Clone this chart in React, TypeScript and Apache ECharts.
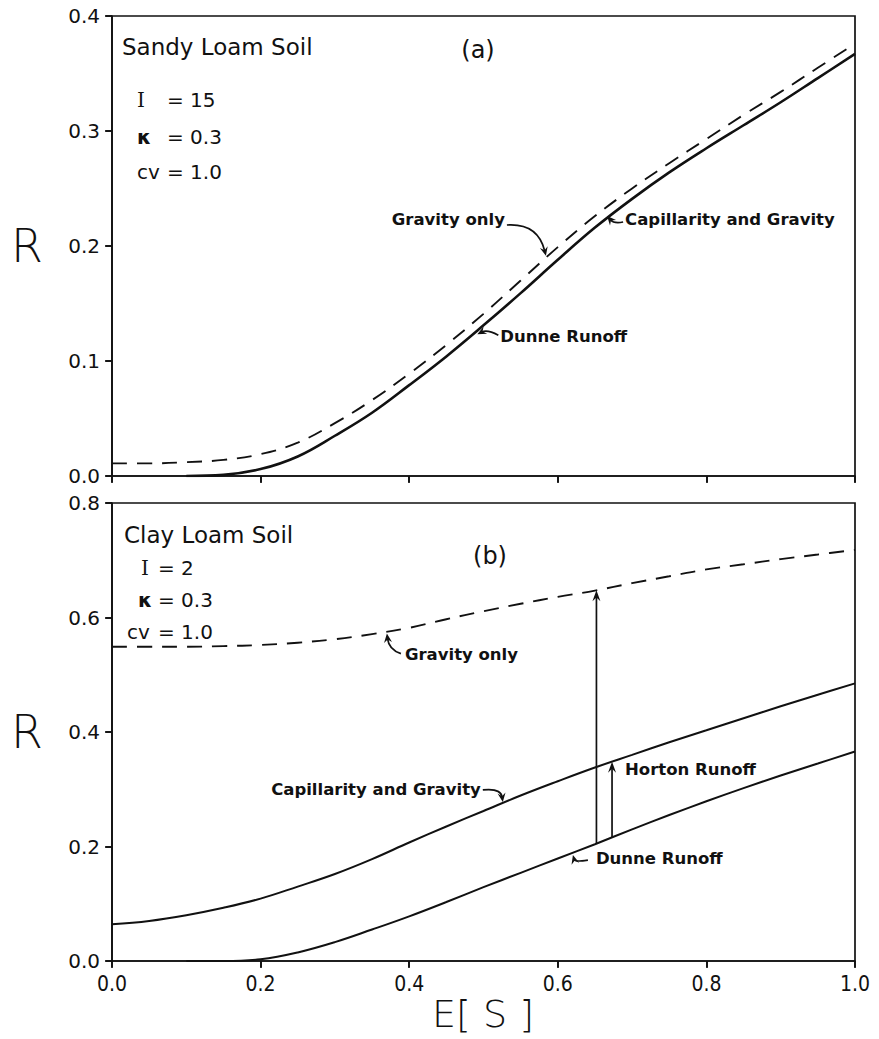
import React, { useEffect, useRef } from "react";
import * as echarts from "echarts";

// Effective saturation E[S] sample points shared by every curve
const ES = [0, 0.05, 0.1, 0.15, 0.2, 0.25, 0.3, 0.35, 0.4, 0.45, 0.5, 0.55, 0.6, 0.65, 0.7, 0.75, 0.8, 0.85, 0.9, 0.95, 1.0];

// (a) Sandy loam soil
const sandyGravityOnly = [0.011, 0.011, 0.012, 0.014, 0.019, 0.029, 0.046, 0.066, 0.089, 0.114, 0.141, 0.17, 0.199, 0.226, 0.25, 0.272, 0.293, 0.314, 0.334, 0.355, 0.376];
const sandyCapillarity = [null, null, 0, 0.001, 0.006, 0.017, 0.035, 0.055, 0.079, 0.104, 0.131, 0.159, 0.188, 0.216, 0.241, 0.264, 0.285, 0.305, 0.325, 0.346, 0.367];

// (b) Clay loam soil
const clayGravityOnly = [0.549, 0.549, 0.549, 0.55, 0.552, 0.556, 0.562, 0.571, 0.582, 0.597, 0.611, 0.624, 0.636, 0.647, 0.66, 0.672, 0.684, 0.693, 0.702, 0.71, 0.718];
const clayCapillarity = [0.064, 0.07, 0.08, 0.093, 0.109, 0.13, 0.152, 0.178, 0.207, 0.235, 0.262, 0.289, 0.314, 0.338, 0.36, 0.382, 0.403, 0.424, 0.445, 0.465, 0.485];
const clayDunne = [null, null, 0, 0, 0.003, 0.015, 0.033, 0.055, 0.078, 0.103, 0.129, 0.154, 0.179, 0.204, 0.23, 0.255, 0.279, 0.302, 0.324, 0.345, 0.366];

// Axis ticks
const xTicks = { min: 0, max: 1, interval: 0.2 };
const sandyTicks = { min: 0, max: 0.4, interval: 0.1 };
const clayTicks = { min: 0, max: 0.8, interval: 0.2 };

// Panel parameters
const sandyParams = [["I", "= 15"], ["κ", "= 0.3"], ["cv", "= 1.0"]];
const clayParams = [["I", "= 2"], ["κ", "= 0.3"], ["cv", "= 1.0"]];

// E[S] positions where annotation arrows meet the curves
const sandyArrowAt = { gravityOnly: 0.584, capillarity: 0.665, dunne: 0.489 };
const clayArrowAt = { gravityOnly: 0.37, capillarity: 0.526, dunne: 0.619, totalRise: 0.652, horton: 0.673 };

const INK = "#111";
const SANS = "'DejaVu Sans', 'Noto Sans', sans-serif";
const NARROW = "'DejaVu Sans Condensed', 'Liberation Sans Narrow', 'DejaVu Sans', sans-serif";
const SERIF = "'DejaVu Serif', 'Liberation Serif', serif";

function interp(xs: number[], ys: (number | null)[], x: number): number {
  for (let i = 0; i < xs.length - 1; i++) {
    if (x >= xs[i] && x <= xs[i + 1]) {
      const a = ys[i] ?? 0;
      const b = ys[i + 1] ?? 0;
      return a + ((b - a) * (x - xs[i])) / (xs[i + 1] - xs[i]);
    }
  }
  return ys[ys.length - 1] ?? 0;
}

function pairs(ys: (number | null)[]) {
  return ES.map((x, i) => [x, ys[i]]);
}

function head(tip: number[], from: number[], size = 9, half = 4) {
  const dx = tip[0] - from[0];
  const dy = tip[1] - from[1];
  const len = Math.hypot(dx, dy) || 1;
  const ux = dx / len, uy = dy / len;
  const nx = -uy, ny = ux;
  const bx = tip[0] - ux * size, by = tip[1] - uy * size;
  return {
    type: "polygon",
    shape: {
      points: [
        [tip[0], tip[1]],
        [bx + nx * half, by + ny * half],
        [tip[0] - ux * size * 0.65, tip[1] - uy * size * 0.65],
        [bx - nx * half, by - ny * half],
      ],
    },
    style: { fill: INK },
  };
}

function curvedArrow(p0: number[], c: number[], tip: number[]) {
  const dx = tip[0] - c[0], dy = tip[1] - c[1];
  const len = Math.hypot(dx, dy) || 1;
  return [
    {
      type: "bezierCurve",
      shape: { x1: p0[0], y1: p0[1], cpx1: c[0], cpy1: c[1], x2: tip[0] - (dx / len) * 5, y2: tip[1] - (dy / len) * 5 },
      style: { stroke: INK, lineWidth: 1.7, fill: null },
    },
    head(tip, c),
  ];
}

function straightArrow(from: number[], tip: number[]) {
  return [
    { type: "line", shape: { x1: from[0], y1: from[1], x2: tip[0], y2: tip[1] + 5 }, style: { stroke: INK, lineWidth: 1.7 } },
    head(tip, from, 11, 4),
  ];
}

function label(text: string, x: number, y: number, align = "left", size = 16.5, weight: any = "bold", family = SANS) {
  return {
    type: "text",
    x,
    y,
    style: { text, fill: INK, fontSize: size, fontWeight: weight, fontFamily: family, align, verticalAlign: "middle" },
  };
}

function valueAxes(grid: number, t: { min: number; max: number; interval: number }, showLabels: boolean, kind: "x" | "y") {
  const common = {
    type: "value",
    gridIndex: grid,
    min: t.min,
    max: t.max,
    interval: t.interval,
    splitLine: { show: false },
  };
  const main = {
    ...common,
    axisLine: { show: true, lineStyle: { color: INK, width: 1.7 } },
    axisTick: { show: true, inside: false, length: 7, lineStyle: { color: INK, width: 1.7 } },
    axisLabel: {
      show: showLabels,
      margin: 12,
      color: INK,
      fontSize: kind === "x" ? 21 : 20,
      fontFamily: kind === "x" ? NARROW : SANS,
      formatter: (v: number) => v.toFixed(1),
    },
  };
  const inner = {
    ...common,
    axisLine: { show: false },
    axisTick: { show: true, inside: true, length: 6, lineStyle: { color: INK, width: 1.7 } },
    axisLabel: { show: false },
  };
  return [main, inner];
}

export default function App() {
  const ref = useRef<HTMLDivElement>(null);

  useEffect(() => {
    if (!ref.current) return;
    const chart = echarts.init(ref.current, null, { renderer: "svg" });

    const solid = (w: number) => ({ color: INK, width: w, type: "solid" as const });
    const dashed = { color: INK, width: 1.9, type: [15, 10] as any };

    chart.setOption({
      animation: false,
      backgroundColor: "#fff",
      grid: [
        { left: 112, top: 16, width: 743, height: 460, show: true, borderColor: INK, borderWidth: 1.7 },
        { left: 112, top: 503, width: 743, height: 458, show: true, borderColor: INK, borderWidth: 1.7 },
      ],
      xAxis: [...valueAxes(0, xTicks, false, "x"), ...valueAxes(1, xTicks, true, "x")],
      yAxis: [...valueAxes(0, sandyTicks, true, "y"), ...valueAxes(1, clayTicks, true, "y")],
      series: [
        { name: "Gravity only (a)", type: "line", xAxisIndex: 0, yAxisIndex: 0, data: pairs(sandyGravityOnly), smooth: 0.4, symbol: "none", lineStyle: dashed },
        { name: "Capillarity and Gravity (a)", type: "line", xAxisIndex: 0, yAxisIndex: 0, data: pairs(sandyCapillarity), smooth: 0.4, symbol: "none", lineStyle: solid(2.6) },
        { name: "Gravity only (b)", type: "line", xAxisIndex: 2, yAxisIndex: 2, data: pairs(clayGravityOnly), smooth: 0.4, symbol: "none", lineStyle: dashed },
        { name: "Capillarity and Gravity (b)", type: "line", xAxisIndex: 2, yAxisIndex: 2, data: pairs(clayCapillarity), smooth: 0.4, symbol: "none", lineStyle: solid(2) },
        { name: "Dunne Runoff (b)", type: "line", xAxisIndex: 2, yAxisIndex: 2, data: pairs(clayDunne), smooth: 0.4, symbol: "none", lineStyle: solid(2) },
      ],
    });

    const pa = (x: number, y: number) => chart.convertToPixel({ xAxisIndex: 0, yAxisIndex: 0 }, [x, y]) as number[];
    const pb = (x: number, y: number) => chart.convertToPixel({ xAxisIndex: 2, yAxisIndex: 2 }, [x, y]) as number[];
    const add = (p: number[], dx: number, dy: number) => [p[0] + dx, p[1] + dy];

    const g: any[] = [];

    // Axis titles
    const r1 = pa(0, 0.2);
    const r2 = pb(0, 0.4);
    g.push(label("R", 27, r1[1], "center", 46, 200, SANS));
    g.push(label("R", 27, r2[1], "center", 46, 200, SANS));
    g.push(label("E[ S ]", 483, 1014, "center", 38, 200, SANS));

    // Panel titles and parameters
    g.push(label("Sandy Loam Soil", 122, 47, "left", 23, "normal"));
    g.push(label("(a)", 478, 50, "center", 24, "normal"));
    const sandyRows = [100, 137, 172];
    sandyParams.forEach(([sym, rest], i) => {
      g.push(label(sym, 137, sandyRows[i], "left", 20, sym === "κ" ? "bold" : "normal", sym === "I" ? SERIF : SANS));
      g.push(label(rest, 167, sandyRows[i], "left", 20, "normal"));
    });
    g.push(label("Clay Loam Soil", 124, 535, "left", 23, "normal"));
    g.push(label("(b)", 490, 556, "center", 24, "normal"));
    const clayRows = [568, 600, 632];
    const clayX = [141, 138, 127];
    clayParams.forEach(([sym, rest], i) => {
      g.push(label(sym, clayX[i], clayRows[i], "left", 20, sym === "κ" ? "bold" : "normal", sym === "I" ? SERIF : SANS));
      g.push(label(rest, 158, clayRows[i], "left", 20, "normal"));
    });

    // (a) annotations
    const aCap = pa(sandyArrowAt.capillarity, interp(ES, sandyCapillarity, sandyArrowAt.capillarity));
    const rowA = aCap[1] + 1;
    g.push(label("Capillarity and Gravity", aCap[0] + 19, rowA, "left"));
    g.push(...curvedArrow(add(aCap, 17, 3), add(aCap, 8, 5), add(aCap, 1, -3)));

    const aGrav = pa(sandyArrowAt.gravityOnly, interp(ES, sandyGravityOnly, sandyArrowAt.gravityOnly));
    const gravEnd = [aGrav[0] - 41, rowA];
    g.push(label("Gravity only", gravEnd[0], gravEnd[1], "right"));
    g.push(...curvedArrow([gravEnd[0] + 2, gravEnd[1] + 5], [aGrav[0] - 8, gravEnd[1] + 3], add(aGrav, 0, -2)));

    const aDun = pa(sandyArrowAt.dunne, interp(ES, sandyCapillarity, sandyArrowAt.dunne));
    g.push(label("Dunne Runoff", aDun[0] + 25, aDun[1] + 4, "left"));
    g.push(...curvedArrow(add(aDun, 23, 3), add(aDun, 12, -3), add(aDun, 2, 2)));

    // (b) annotations
    const bGrav = pb(clayArrowAt.gravityOnly, interp(ES, clayGravityOnly, clayArrowAt.gravityOnly));
    g.push(label("Gravity only", bGrav[0] + 18, bGrav[1] + 23, "left"));
    g.push(...curvedArrow(add(bGrav, 14, 22), add(bGrav, 2, 18), add(bGrav, 0, 2)));

    const bCap = pb(clayArrowAt.capillarity, interp(ES, clayCapillarity, clayArrowAt.capillarity));
    g.push(label("Capillarity and Gravity", bCap[0] - 22, bCap[1] - 13, "right"));
    g.push(...curvedArrow(add(bCap, -20, -13), add(bCap, -2, -15), add(bCap, 0, -1)));

    const bDun = pb(clayArrowAt.dunne, interp(ES, clayDunne, clayArrowAt.dunne));
    g.push(label("Dunne Runoff", bDun[0] + 24, bDun[1] + 5, "left"));
    g.push(...curvedArrow(add(bDun, 16, 7), add(bDun, 3, 9), add(bDun, 1, 2)));

    const riseLow = pb(clayArrowAt.totalRise, interp(ES, clayDunne, clayArrowAt.totalRise));
    const riseTop = pb(clayArrowAt.totalRise, interp(ES, clayGravityOnly, clayArrowAt.totalRise));
    g.push(...straightArrow(riseLow, riseTop));

    const hLow = pb(clayArrowAt.horton, interp(ES, clayDunne, clayArrowAt.horton));
    const hTop = pb(clayArrowAt.horton, interp(ES, clayCapillarity, clayArrowAt.horton));
    g.push(...straightArrow(hLow, hTop));
    g.push(label("Horton Runoff", hTop[0] + 13, hTop[1] + 8, "left"));

    chart.setOption({ graphic: g });

    return () => chart.dispose();
  }, []);

  return <div ref={ref} style={{ position: "fixed", left: 0, top: 0, width: 879, height: 1039, background: "#fff" }} />;
}
